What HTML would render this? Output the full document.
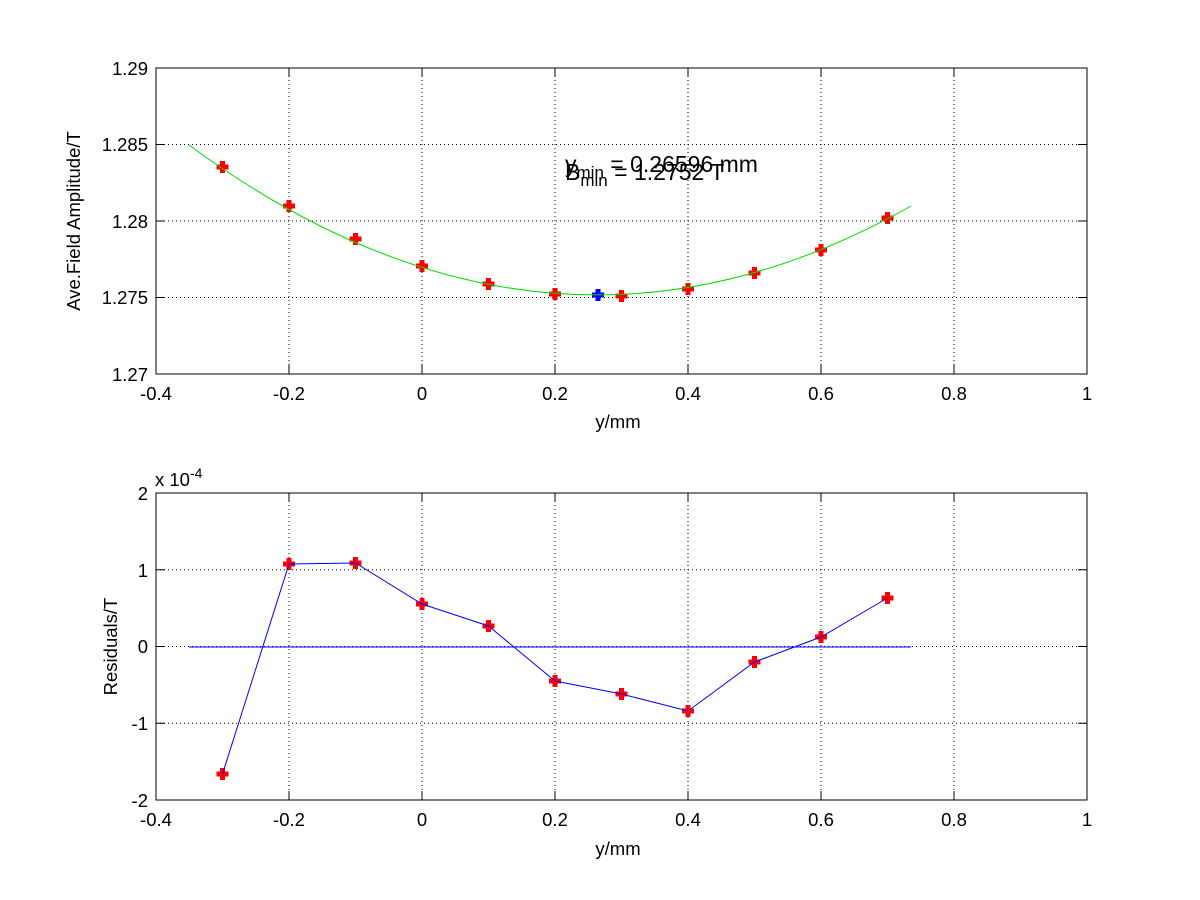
<!DOCTYPE html>
<html><head><meta charset="utf-8"><style>
html,body{margin:0;padding:0;background:#fff}
svg{display:block}
text{font-family:"Liberation Sans",Arial,sans-serif;font-size:18.5px;fill:#000}
</style></head><body>
<svg width="1200" height="900" viewBox="0 0 1200 900" xmlns="http://www.w3.org/2000/svg">
<defs>
<path id="pr" d="M-6,-2.5h3.5v-3.5h5v3.5h3.5v5h-3.5v3.5h-5v-3.5h-3.5z" fill="#f00"/>
<path id="pb" d="M-6,-2.5h3.5v-3.5h5v3.5h3.5v5h-3.5v3.5h-5v-3.5h-3.5z" fill="#00f"/>
</defs>
<rect width="1200" height="900" fill="#fff"/>
<!-- TOP -->
<g stroke="#000" stroke-width="1" stroke-dasharray="1,3" fill="none">
<path d="M289 68V374M422 68V374M555 68V374M688 68V374M821 68V374M954 68V374"/>
<path d="M156 297.5H1087M156 221H1087M156 144.5H1087"/>
</g>
<rect x="156" y="68" width="931" height="306" fill="none" stroke="#000"/>
<g stroke="#000">
<path d="M289 374v-9M422 374v-9M555 374v-9M688 374v-9M821 374v-9M954 374v-9M289 68v9M422 68v9M555 68v9M688 68v9M821 68v9M954 68v9"/>
<path d="M156 297.5h9M156 221h9M156 144.5h9M1087 297.5h-9M1087 221h-9M1087 144.5h-9"/>
</g>
<g text-anchor="middle">
<text x="156" y="400">-0.4</text><text x="289" y="400">-0.2</text><text x="422" y="400">0</text><text x="555" y="400">0.2</text><text x="688" y="400">0.4</text><text x="821" y="400">0.6</text><text x="954" y="400">0.8</text><text x="1087" y="400">1</text>
<text x="618" y="428">y/mm</text>
</g>
<g text-anchor="end">
<text x="148" y="381">1.27</text><text x="148" y="304">1.275</text><text x="148" y="228">1.28</text><text x="148" y="151">1.285</text><text x="148" y="75">1.29</text>
</g>
<text transform="translate(80,221) rotate(-90)" text-anchor="middle">Ave.Field Amplitude/T</text>
<g>
<use href="#pr" x="222.5" y="167"/><use href="#pr" x="289" y="206"/><use href="#pr" x="355.5" y="239"/><use href="#pr" x="422" y="266"/><use href="#pr" x="488.5" y="284"/><use href="#pr" x="555" y="294"/><use href="#pr" x="621.5" y="296"/><use href="#pr" x="688" y="289"/><use href="#pr" x="754.5" y="273"/><use href="#pr" x="821" y="250"/><use href="#pr" x="887.5" y="218"/>
<use href="#pb" x="598" y="295"/>
</g>
<path d="M189 145 Q550 410.4 911 206" fill="none" stroke="#00dd00" stroke-width="1"/>
<text x="565" y="172" style="font-size:23px">y<tspan dy="6" style="font-size:17px">min</tspan><tspan dy="-6"> = 0.26596 mm</tspan></text>
<text x="565" y="180" style="font-size:23px">B<tspan dy="6" style="font-size:17px">min</tspan><tspan dy="-6"> = 1.2752 T</tspan></text>
<!-- BOTTOM -->
<g stroke="#000" stroke-width="1" stroke-dasharray="1,3" fill="none">
<path d="M289 493V800M422 493V800M555 493V800M688 493V800M821 493V800M954 493V800"/>
<path d="M156 723.25H1087M156 646.5H1087M156 569.75H1087"/>
</g>
<rect x="156" y="493" width="931" height="307" fill="none" stroke="#000"/>
<g stroke="#000">
<path d="M289 800v-9M422 800v-9M555 800v-9M688 800v-9M821 800v-9M954 800v-9M289 493v9M422 493v9M555 493v9M688 493v9M821 493v9M954 493v9"/>
<path d="M156 723.25h9M156 646.5h9M156 569.75h9M1087 723.25h-9M1087 646.5h-9M1087 569.75h-9"/>
</g>
<g text-anchor="middle">
<text x="156" y="826">-0.4</text><text x="289" y="826">-0.2</text><text x="422" y="826">0</text><text x="555" y="826">0.2</text><text x="688" y="826">0.4</text><text x="821" y="826">0.6</text><text x="954" y="826">0.8</text><text x="1087" y="826">1</text>
<text x="618" y="855">y/mm</text>
</g>
<g text-anchor="end">
<text x="148" y="807">-2</text><text x="148" y="730">-1</text><text x="148" y="653">0</text><text x="148" y="577">1</text><text x="148" y="500">2</text>
</g>
<text x="155" y="486">x 10<tspan dy="-8" style="font-size:14px">-4</tspan></text>
<text transform="translate(117,646.5) rotate(-90)" text-anchor="middle">Residuals/T</text>
<path d="M189 647H911" stroke="#00f" stroke-width="1"/>
<g>
<use href="#pr" x="222.5" y="774"/><use href="#pr" x="289" y="564"/><use href="#pr" x="355.5" y="563"/><use href="#pr" x="422" y="604"/><use href="#pr" x="488.5" y="626"/><use href="#pr" x="555" y="681"/><use href="#pr" x="621.5" y="694"/><use href="#pr" x="688" y="711"/><use href="#pr" x="754.5" y="662"/><use href="#pr" x="821" y="637"/><use href="#pr" x="887.5" y="598"/>
</g>
<polyline points="222.5,774 289,564 355.5,563 422,604 488.5,626 555,681 621.5,694 688,711 754.5,662 821,637 887.5,598" fill="none" stroke="#00f" stroke-width="1"/>
</svg>
</body></html>
